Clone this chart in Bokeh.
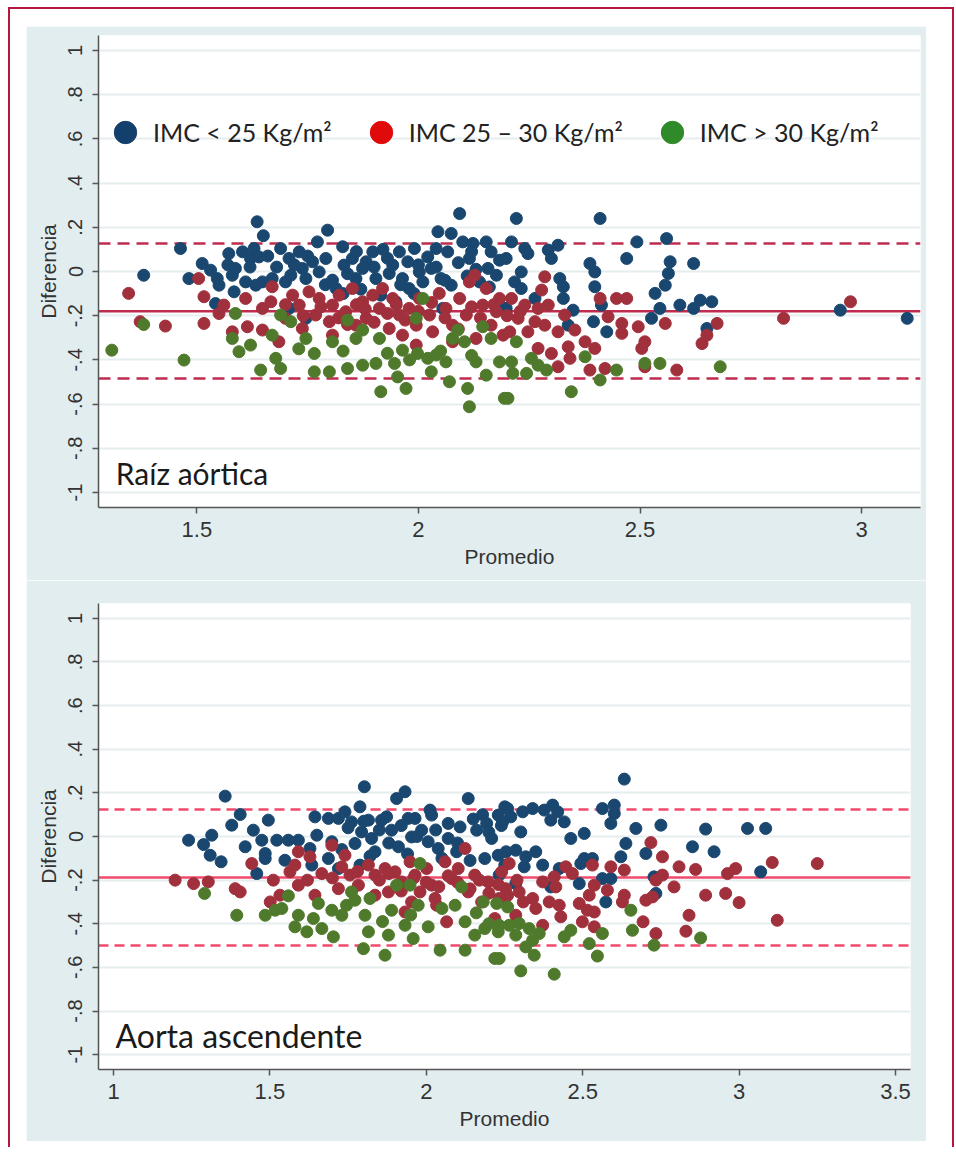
from bokeh.plotting import figure
from bokeh.models import (ColumnDataSource, Range1d, FixedTicker, CustomJSTickFormatter,
                          Span, Label, Legend, LegendItem, Spacer)
from bokeh.layouts import column, row
from bokeh.embed import file_html
from bokeh.resources import INLINE

# ---------------- data ----------------
group_labels = ["IMC < 25 Kg/m²", "IMC 25 – 30 Kg/m²", "IMC > 30 Kg/m²"]
panel_titles = ["Raíz aórtica", "Aorta ascendente"]
y_ticks = [-1, -0.8, -0.6, -0.4, -0.2, 0, 0.2, 0.4, 0.6, 0.8, 1]
p1_x_ticks = [1.5, 2, 2.5, 3]
p2_x_ticks = [1, 1.5, 2, 2.5, 3, 3.5]
p1_limits = [-0.18, 0.127, -0.484]   # mean, upper LoA, lower LoA
p2_limits = [-0.188, 0.124, -0.50]

p1_blue = [(1.380,-0.017),(1.463,0.104),(1.482,-0.032),(1.512,0.036),(1.531,0.006),(1.546,-0.032),
    (1.550,-0.062),(1.542,-0.145),(1.572,0.081),(1.580,-0.017),(1.584,-0.092),(1.587,0.014),
    (1.603,0.089),(1.610,-0.047),(1.621,0.059),(1.629,0.104),(1.636,0.225),(1.640,0.066),
    (1.650,0.162),(1.633,-0.062),(1.648,-0.047),(1.670,-0.032),(1.689,0.104),(1.700,-0.047),
    (1.708,0.059),(1.712,-0.017),(1.731,0.089),(1.738,0.014),(1.746,-0.032),(1.761,0.044),
    (1.772,0.134),(1.776,-0.002),(1.791,0.059),(1.795,0.187),(1.806,-0.039),(1.814,-0.077),
    (1.829,0.112),(1.832,0.029),(1.851,0.059),(1.859,-0.032),(1.874,0.014),(1.882,0.044),
    (1.897,0.089),(1.904,-0.032),(1.915,-0.107),(1.934,-0.009),(1.942,0.029),(1.957,0.089),
    (1.964,-0.032),(1.976,0.044),(1.979,-0.077),(1.991,0.104),(2.002,-0.002),(2.010,-0.047),
    (2.021,0.066),(2.029,0.014),(2.040,0.104),(2.044,0.180),(2.051,-0.032),(2.066,0.089),
    (2.074,0.172),(2.074,-0.062),(2.093,0.262),(2.100,0.134),(2.115,0.059),(2.123,0.127),
    (2.138,-0.047),(2.153,0.134),(2.164,0.089),(2.157,0.014),(2.183,0.051),(2.176,-0.017),
    (2.198,-0.167),(1.708,-0.167),(1.746,-0.212),(1.949,-0.137),(2.055,-0.167),
    (2.221,0.240),(2.410,0.240),(2.210,0.134),(2.240,0.104),(2.247,0.081),(2.293,0.097),
    (2.315,0.119),(2.300,0.059),(2.198,0.059),(2.232,-0.002),(2.217,-0.047),(2.232,-0.077),
    (2.319,-0.032),(2.327,-0.069),(2.327,-0.122),(2.349,-0.175),(2.387,0.036),(2.398,-0.002),
    (2.398,-0.069),(2.413,-0.152),(2.395,-0.227),(2.425,-0.273),(2.470,0.059),(2.493,0.134),
    (2.560,0.149),(2.568,0.044),(2.564,-0.009),(2.557,-0.062),(2.534,-0.099),(2.545,-0.167),
    (2.526,-0.212),(2.621,0.036),(2.590,-0.152),(2.621,-0.167),(2.636,-0.130),(2.662,-0.137),
    (2.651,-0.258),(2.952,-0.175),(3.103,-0.212),(2.263,-0.122),(2.195,-0.167),(2.338,-0.243),
    (1.68,0.02),(1.72,0.03),(1.79,-0.06),(1.84,-0.01),(1.87,-0.08),(1.90,0.02),(1.93,0.06),
    (1.96,-0.06),(2.00,0.03),(2.04,0.02),(2.06,-0.04),(2.09,0.04),(2.11,-0.02),(2.13,0.01),
    (2.16,-0.07),(2.12,0.09),(1.92,0.10),(1.86,0.09),(1.75,0.07),(1.66,0.07),(1.62,0.02),
    (1.57,0.03),(1.99,-0.10),(1.83,-0.10)]

p1_red = [(1.346,-0.099),(1.372,-0.227),(1.429,-0.247),(1.504,-0.032),(1.516,-0.114),(1.516,-0.235),
    (1.550,-0.190),(1.561,-0.152),(1.580,-0.273),(1.610,-0.122),(1.614,-0.250),(1.648,-0.265),
    (1.648,-0.167),(1.670,-0.069),(1.667,-0.137),(1.685,-0.318),(1.700,-0.212),(1.716,-0.107),
    (1.731,-0.152),(1.738,-0.258),(1.753,-0.092),(1.768,-0.197),(1.776,-0.122),(1.799,-0.227),
    (1.806,-0.152),(1.821,-0.107),(1.836,-0.182),(1.851,-0.077),(1.859,-0.243),(1.874,-0.137),
    (1.882,-0.212),(1.897,-0.107),(1.912,-0.167),(1.919,-0.077),(1.934,-0.258),(1.942,-0.122),
    (1.957,-0.197),(1.964,-0.288),(1.979,-0.167),(1.995,-0.243),(2.002,-0.122),(2.025,-0.197),
    (2.032,-0.273),(2.047,-0.099),(2.062,-0.167),(2.077,-0.243),(2.093,-0.122),(2.108,-0.197),
    (2.115,-0.047),(2.127,-0.017),(2.130,-0.303),(2.145,-0.152),(2.153,-0.077),(2.164,-0.243),
    (2.176,-0.182),(2.183,-0.122),(2.191,-0.288),(2.077,-0.318),(1.995,-0.333),(1.806,-0.288),
    (2.285,-0.024),(2.278,-0.084),(2.210,-0.122),(2.240,-0.152),(2.270,-0.167),(2.293,-0.152),
    (2.225,-0.212),(2.263,-0.227),(2.285,-0.243),(2.206,-0.273),(2.247,-0.273),(2.315,-0.273),
    (2.353,-0.265),(2.330,-0.197),(2.270,-0.348),(2.300,-0.371),(2.338,-0.341),(2.342,-0.393),
    (2.315,-0.431),(2.376,-0.318),(2.398,-0.348),(2.387,-0.446),(2.421,-0.439),(2.428,-0.205),
    (2.447,-0.122),(2.470,-0.122),(2.459,-0.235),(2.459,-0.280),(2.496,-0.250),(2.511,-0.318),
    (2.504,-0.348),(2.557,-0.235),(2.511,-0.431),(2.583,-0.446),(2.640,-0.326),(2.651,-0.288),
    (2.674,-0.235),(2.410,-0.122),(2.824,-0.212),(2.975,-0.137),
    (1.70,-0.15),(1.74,-0.20),(1.78,-0.16),(1.82,-0.21),(1.86,-0.15),(1.88,-0.17),(1.90,-0.23),
    (1.93,-0.19),(1.97,-0.22),(2.00,-0.18),(2.03,-0.14),(2.06,-0.21),(2.09,-0.26),(2.12,-0.16),
    (2.14,-0.21),(2.17,-0.15),(2.20,-0.20),(2.23,-0.18),(1.84,-0.24),(1.95,-0.15)]

p1_green = [(1.308,-0.356),(1.380,-0.240),(1.471,-0.401),(1.587,-0.190),(1.580,-0.303),(1.595,-0.363),
    (1.621,-0.333),(1.644,-0.446),(1.670,-0.288),(1.678,-0.393),(1.689,-0.439),(1.689,-0.197),
    (1.712,-0.227),(1.746,-0.303),(1.765,-0.371),(1.765,-0.454),(1.799,-0.454),(1.806,-0.318),
    (1.840,-0.220),(1.840,-0.439),(1.859,-0.303),(1.874,-0.265),(1.874,-0.424),(1.904,-0.416),
    (1.912,-0.303),(1.915,-0.544),(1.946,-0.416),(1.953,-0.477),(1.964,-0.356),(1.972,-0.529),
    (1.995,-0.212),(1.998,-0.371),(2.010,-0.122),(2.021,-0.393),(2.029,-0.454),(2.040,-0.378),
    (2.062,-0.409),(2.070,-0.499),(2.077,-0.303),(2.089,-0.265),(2.104,-0.318),(2.111,-0.529),
    (2.115,-0.612),(2.130,-0.409),(2.145,-0.250),(2.153,-0.469),(2.164,-0.303),(2.183,-0.409),
    (2.194,-0.574),(2.221,-0.318),(2.210,-0.409),(2.213,-0.461),(2.244,-0.461),(2.255,-0.393),
    (2.270,-0.424),(2.289,-0.446),(2.202,-0.574),(2.345,-0.544),(2.376,-0.386),(2.410,-0.491),
    (2.447,-0.446),(2.511,-0.416),(2.545,-0.416),(2.681,-0.431),
    (1.93,-0.37),(1.98,-0.40),(2.05,-0.36),(2.12,-0.38),(1.83,-0.36),(1.73,-0.35)]

p2_blue = [(1.357,0.185),(1.405,0.101),(1.378,0.052),(1.240,-0.017),(1.288,-0.037),(1.314,0.006),
    (1.309,-0.086),(1.344,-0.116),(1.495,0.075),(1.447,0.029),(1.421,-0.047),(1.474,-0.017),
    (1.522,-0.017),(1.485,-0.078),(1.458,-0.170),(1.485,-0.101),(1.559,-0.017),(1.591,-0.017),
    (1.548,-0.109),(1.628,-0.055),(1.644,0.090),(1.650,0.006),(1.687,0.083),(1.687,-0.101),
    (1.719,0.083),(1.740,0.113),(1.761,0.067),(1.788,0.136),(1.802,0.228),(1.793,0.021),
    (1.815,0.075),(1.825,-0.009),(1.836,-0.070),(1.772,-0.032),(1.788,-0.131),(1.857,0.075),
    (1.873,0.090),(1.889,0.029),(1.911,-0.047),(1.905,0.174),(1.932,0.205),(1.942,0.083),
    (1.953,-0.002),(1.964,0.083),(1.985,0.029),(2.012,0.121),(2.017,0.098),(2.006,-0.024),
    (2.038,-0.055),(2.070,-0.009),(2.108,0.044),(2.097,-0.070),(2.134,0.174),(2.161,0.029),
    (2.193,0.060),(2.209,-0.009),(2.230,0.098),(2.251,0.136),(2.187,-0.101),(2.230,-0.086),
    (2.251,-0.131),(1.698,-0.024),(1.634,-0.131),(1.719,-0.147),
    (2.633,0.263),(2.260,0.128),(2.308,0.113),(2.340,0.128),(2.377,0.121),(2.404,0.144),
    (2.420,0.113),(2.398,0.075),(2.441,0.067),(2.563,0.128),(2.601,0.144),(2.601,0.105),
    (2.590,0.060),(2.244,0.067),(2.302,0.021),(2.462,-0.009),(2.505,0.014),(2.670,0.037),
    (2.750,0.052),(2.893,0.034),(3.027,0.037),(3.085,0.037),(2.638,-0.032),(2.622,-0.093),
    (2.702,-0.078),(2.851,-0.047),(2.920,-0.070),(2.255,-0.070),(2.286,-0.063),(2.318,-0.093),
    (2.350,-0.070),(2.313,-0.139),(2.372,-0.131),(2.425,-0.147),(2.505,-0.101),(2.531,-0.101),
    (2.494,-0.124),(2.489,-0.216),(2.563,-0.193),(2.590,-0.193),(2.574,-0.300),(2.398,-0.231),
    (2.286,-0.216),(2.728,-0.185),(2.734,-0.261),(3.069,-0.162),(2.233,-0.177),
    (1.75,0.04),(1.80,0.07),(1.85,0.03),(1.88,-0.03),(1.92,0.05),(1.97,0.00),(2.03,0.03),
    (2.07,0.06),(2.10,-0.03),(2.15,0.08),(2.18,0.10),(2.20,0.02),(2.24,0.05),(2.27,0.09),
    (1.73,-0.06),(1.82,-0.09),(1.94,-0.08),(2.05,-0.10),(2.14,-0.11)]

p2_red = [(1.197,-0.200),(1.256,-0.216),(1.303,-0.208),(1.389,-0.239),(1.405,-0.254),(1.442,-0.124),
    (1.501,-0.300),(1.511,-0.200),(1.532,-0.269),(1.564,-0.162),(1.591,-0.070),(1.580,-0.131),
    (1.591,-0.223),(1.628,-0.093),(1.644,-0.269),(1.666,-0.170),(1.698,-0.040),(1.719,-0.239),
    (1.740,-0.086),(1.730,-0.139),(1.756,-0.177),(1.783,-0.223),(1.815,-0.131),(1.836,-0.177),
    (1.868,-0.147),(1.879,-0.254),(1.900,-0.162),(1.921,-0.208),(1.932,-0.346),(1.948,-0.116),
    (1.964,-0.177),(1.980,-0.254),(2.001,-0.147),(2.017,-0.223),(2.033,-0.315),(2.060,-0.116),
    (2.065,-0.391),(2.081,-0.193),(2.102,-0.147),(2.124,-0.055),(2.134,-0.254),(2.155,-0.177),
    (2.177,-0.300),(2.198,-0.208),(2.219,-0.376),(2.241,-0.162),(2.251,-0.284),(2.028,-0.284),
    (1.836,-0.269),(1.953,-0.300),
    (2.265,-0.124),(2.718,-0.028),(2.755,-0.093),(2.531,-0.131),(2.590,-0.139),(2.633,-0.154),
    (2.446,-0.139),(2.467,-0.170),(2.409,-0.185),(2.372,-0.208),(2.414,-0.231),(2.537,-0.223),
    (2.579,-0.246),(2.521,-0.269),(2.489,-0.307),(2.515,-0.338),(2.537,-0.346),(2.425,-0.315),
    (2.393,-0.300),(2.340,-0.284),(2.297,-0.254),(2.254,-0.239),(2.233,-0.284),(2.350,-0.330),
    (2.286,-0.361),(2.372,-0.407),(2.430,-0.368),(2.499,-0.391),(2.537,-0.414),(2.633,-0.269),
    (2.627,-0.300),(2.702,-0.292),(2.723,-0.277),(2.734,-0.200),(2.755,-0.177),(2.792,-0.231),
    (2.808,-0.139),(2.861,-0.151),(2.893,-0.269),(2.693,-0.391),(2.734,-0.445),(2.840,-0.361),
    (2.830,-0.434),(2.963,-0.170),(2.989,-0.147),(2.957,-0.261),(3.000,-0.303),(3.106,-0.119),
    (3.122,-0.384),(3.250,-0.124),
    (1.85,-0.20),(1.88,-0.17),(1.92,-0.25),(1.96,-0.19),(2.00,-0.21),(2.04,-0.23),(2.07,-0.18),
    (2.10,-0.21),(2.14,-0.24),(2.17,-0.20),(2.20,-0.26),(2.23,-0.22),(2.26,-0.27),(2.29,-0.20),
    (2.31,-0.30),(1.78,-0.16),(1.70,-0.19),(1.62,-0.20)]

p2_green = [(1.291,-0.261),(1.394,-0.361),(1.485,-0.361),(1.517,-0.338),(1.538,-0.330),(1.559,-0.272),
    (1.591,-0.361),(1.580,-0.414),(1.618,-0.437),(1.639,-0.376),(1.655,-0.307),(1.666,-0.422),
    (1.703,-0.460),(1.698,-0.338),(1.730,-0.361),(1.745,-0.315),(1.761,-0.254),(1.772,-0.292),
    (1.804,-0.361),(1.815,-0.437),(1.799,-0.514),(1.820,-0.284),(1.868,-0.544),(1.879,-0.452),
    (1.889,-0.338),(1.905,-0.223),(1.932,-0.407),(1.948,-0.223),(1.958,-0.468),(1.974,-0.315),
    (1.980,-0.124),(2.006,-0.414),(2.044,-0.521),(2.092,-0.315),(2.113,-0.231),(2.124,-0.391),
    (2.124,-0.521),(2.155,-0.452),(2.182,-0.300),(2.187,-0.422),(2.219,-0.559),(2.225,-0.307),
    (2.230,-0.437),
    (2.260,-0.323),(2.233,-0.407),(2.265,-0.407),(2.297,-0.399),(2.329,-0.422),(2.361,-0.445),
    (2.286,-0.452),(2.340,-0.475),(2.318,-0.506),(2.345,-0.544),(2.302,-0.616),(2.409,-0.631),
    (2.441,-0.460),(2.462,-0.430),(2.521,-0.491),(2.547,-0.548),(2.563,-0.445),(2.654,-0.338),
    (2.659,-0.430),(2.728,-0.498),(2.877,-0.465),(2.233,-0.559),
    (1.95,-0.36),(2.05,-0.33),(2.16,-0.35),(2.20,-0.40),(1.86,-0.39)]

# ---------------- style ----------------
BG = "#e2edef"
PT_COLORS = ["#1a476f", "#a1303d", "#4f7a2c"]
LEG_COLORS = ["#123f6b", "#e00a0a", "#2f8a2a"]
TICK_FONT = "Liberation Sans"
TXT_FONT = "Lato"
NAN = float("nan")

y_fmt = CustomJSTickFormatter(code="""
    const v = Math.round(tick*10)/10;
    if (v === 0) return "0";
    const a = Math.abs(v);
    const s = (a === 1) ? "1" : a.toFixed(1).replace(/^0/, "");
    return (v < 0 ? "-" : "") + s;
""")
x_fmt = CustomJSTickFormatter(code="return String(Math.round(tick*10)/10);")


def make_panel(series, xr, xticks, limits, line_color, dash, title, title_size,
               frame_w, frame_h, mb):
    p = figure(frame_width=frame_w, frame_height=frame_h,
               x_range=Range1d(*xr), y_range=Range1d(-1.068, 1.068),
               output_backend="svg", toolbar_location=None,
               min_border_left=mb[0], min_border_right=mb[1],
               min_border_top=mb[2], min_border_bottom=mb[3])
    p.border_fill_color = BG
    p.background_fill_color = "white"
    p.outline_line_color = None
    p.xgrid.grid_line_color = None
    p.ygrid.grid_line_color = "#e6edef"
    p.ygrid.grid_line_width = 2
    p.yaxis.ticker = FixedTicker(ticks=y_ticks)
    p.xaxis.ticker = FixedTicker(ticks=xticks)
    p.yaxis.formatter = y_fmt
    p.xaxis.formatter = x_fmt
    p.yaxis.major_label_orientation = "vertical"
    for ax in (p.xaxis, p.yaxis):
        ax.axis_line_color = "#555555"
        ax.axis_line_width = 1.5
        ax.major_tick_line_color = "#555555"
        ax.major_tick_line_width = 1.5
        ax.major_tick_out = 6
        ax.major_tick_in = 0
        ax.minor_tick_line_color = None
        ax.major_label_text_font = TICK_FONT
        ax.major_label_text_color = "#333333"
        ax.axis_label_text_font = TICK_FONT
        ax.axis_label_text_font_style = "normal"
        ax.axis_label_text_color = "#333333"
        ax.axis_label_text_font_size = "21px"
    p.xaxis.major_label_text_font_size = "22px"
    p.yaxis.major_label_text_font_size = "20px"
    p.xaxis.axis_label = "Promedio"
    p.yaxis.axis_label = "Diferencia"
    p.yaxis.major_label_standoff = 10
    p.yaxis.axis_label_standoff = 6
    p.xaxis.major_label_standoff = 8
    p.xaxis.axis_label_standoff = 5

    mean, up, lo = limits
    p.add_layout(Span(location=mean, dimension="width", line_color=line_color,
                      line_width=2.5, level="underlay"))
    for loc in (up, lo):
        p.add_layout(Span(location=loc, dimension="width", line_color=line_color,
                          line_width=2.5, line_dash=dash, level="underlay"))

    for pts, col in zip(series, PT_COLORS):
        src = ColumnDataSource(dict(x=[a for a, b in pts], y=[b for a, b in pts]))
        p.scatter("x", "y", source=src, size=12, fill_color=col, line_color=col,
                  line_width=1)

    p.add_layout(Label(x=xr[0] + (xr[1] - xr[0]) * 0.021, y=-0.91, text=title,
                       text_font=TXT_FONT, text_font_size=title_size,
                       text_color="#1a1a1a", text_baseline="middle"))
    return p


p1 = make_panel([p1_blue, p1_red, p1_green], (1.278, 3.133), p1_x_ticks, p1_limits,
                "#bf2c4f", "12 7", panel_titles[0], "30px", 822, 472, (68, 10, 9, 73))
p2 = make_panel([p2_blue, p2_red, p2_green], (0.952, 3.548), p2_x_ticks, p2_limits,
                "#f04a6c", "10 6", panel_titles[1], "32px", 812, 466, (72, 16, 23, 72))

# legend (panel 1): key-only renderers (NaN points are never drawn in the plot)
leg_rs = [p1.scatter(x=[NAN], y=[NAN], size=12, fill_color=c, line_color=c) for c in LEG_COLORS]
legend = Legend(items=[LegendItem(label=l, renderers=[r]) for l, r in zip(group_labels, leg_rs)],
                orientation="horizontal", location=(-1, 346),
                glyph_width=56, glyph_height=58, label_standoff=0, spacing=21,
                padding=0, margin=0, border_line_color=None, background_fill_alpha=0,
                label_text_font=TXT_FONT, label_text_font_size="25px",
                label_text_color="#222222")
p1.add_layout(legend)

inner = column(Spacer(height=17), p1, p2, Spacer(height=6))
framed = row(Spacer(width=16), inner, Spacer(width=26),
             styles={"border-left": "2px solid #b5173f", "border-top": "2px solid #b5173f",
                     "border-right": "2px solid #b5173f"})
layout = column(Spacer(height=7), row(Spacer(width=8), framed))

open("out.html", "w").write(file_html(layout, INLINE))
